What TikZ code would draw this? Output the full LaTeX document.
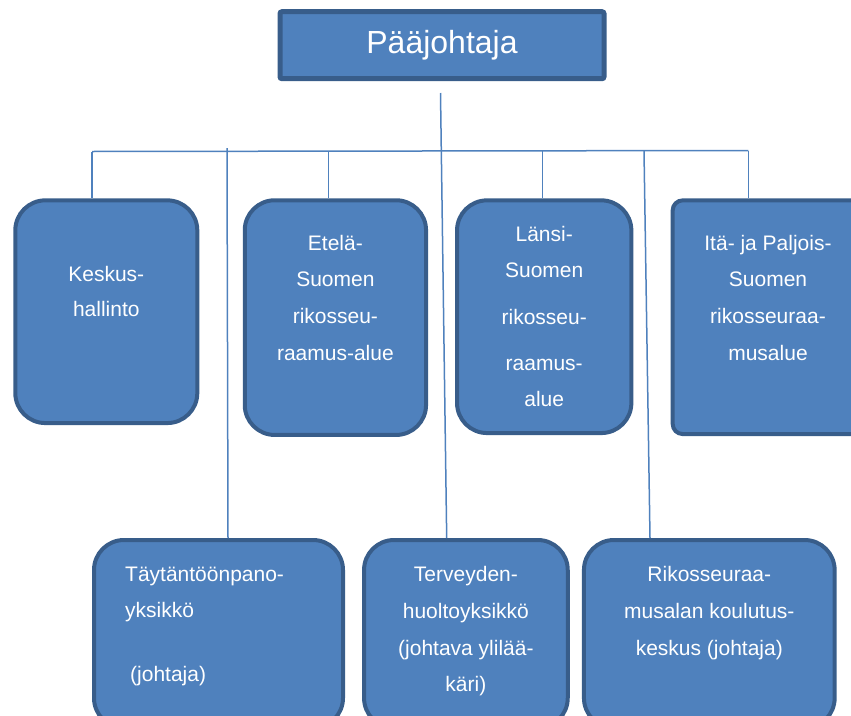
\documentclass[tikz,border=0pt]{standalone}
\usepackage{fontspec}
\setmainfont{Liberation Sans}
\usetikzlibrary{positioning}
\definecolor{boxfill}{RGB}{79,129,189}
\definecolor{boxline}{RGB}{56,93,138}
\definecolor{wireblue}{RGB}{79,129,189}

\begin{document}
\begin{tikzpicture}[x=1pt, y=-1pt,
  orgbox/.style={draw=boxline, fill=boxfill, line width=4pt, rounded corners=30pt},
  orgtext/.style={text=white, inner sep=0pt, align=center, font=\fontsize{21}{36.7}\selectfont},
  wire/.style={draw=wireblue, line width=1.5pt}]
  \clip (0,0) rectangle (851,715);
  % johto
  \node[orgbox, rounded corners=2pt, line width=5pt, minimum width=324pt, minimum height=67pt,
        text=white, font=\fontsize{32}{38}\selectfont] (paa) at (442,45.2) {Pääjohtaja};
  % alueet
  \node[orgbox, minimum width=182pt, minimum height=222.7pt] (keskus) at (106.3,311.7) {};
  \node[orgbox, minimum width=181.3pt, minimum height=234.7pt] (etela) at (335.4,317.6) {};
  \node[orgbox, minimum width=174.3pt, minimum height=232.7pt] (lansi) at (544.2,316.7) {};
  \node[orgbox, rounded corners=10pt, minimum width=190.6pt, minimum height=233.7pt] (ita) at (768,317.2) {};
  % yksiköt
  \node[orgbox, minimum width=249pt, minimum height=188pt] (taytanto) at (218.5,634) {};
  \node[orgbox, minimum width=203.7pt, minimum height=188pt] (terveys) at (465.9,634) {};
  \node[orgbox, minimum width=250.7pt, minimum height=188pt] (koulutus) at (709.3,634) {};

  \node[orgtext, below=68.1pt of keskus.north] (keskusT) {Keskus-\\[-1.7pt]hallinto};
  \node[orgtext, below=36.4pt of etela.north] (etelaT) {Etelä-\\Suomen\\rikosseu-\\raamus-alue};
  \node[orgtext, below=28.1pt of lansi.north] (lansiT) {Länsi-\\[-0.7pt]Suomen\\[9.6pt]rikosseu-\\[10pt]raamus-\\[-0.7pt]alue};
  \node[orgtext, below=36.4pt of ita.north] (itaT) {Itä- ja Paljois-\\Suomen\\rikosseuraa-\\musalue};
  \node[orgtext, align=left, below right=28.4pt and 33pt of taytanto.north west] (taytantoT)
    {Täytäntöönpano-\\yksikkö\\[26.7pt]\hspace*{5pt}(johtaja)};
  \node[orgtext, below=28.4pt of terveys.north] (terveysT) {Terveyden-\\huoltoyksikkö\\(johtava ylilää-\\käri)};
  \node[orgtext, below=28.4pt of koulutus.north] (koulutusT) {Rikosseuraa-\\musalan koulutus-\\keskus (johtaja)};

  % linjat
  \coordinate (trunk) at (440.5,93);
  \coordinate (busL) at (92,151.5);
  \coordinate (busR) at (748.3,150.5);
  \coordinate (tapE) at (328.5,151.3);
  \coordinate (tapL) at (542.3,151);
  \coordinate (tapT) at (227,148);
  \coordinate (tapR) at (644,151);
  \draw[wire] (busL) -- (busR);
  \draw[wire] (trunk) -- ([xshift=-19.2pt]terveys.north);
  \draw[wire] (busL) -- (keskus.north -| busL);
  \draw[wire] (tapE) -- (etela.north -| tapE);
  \draw[wire] (tapL) -- (lansi.north -| tapL);
  \draw[wire] (busR) -- (ita.north -| busR);
  \draw[wire] (tapT) -- ([xshift=9.5pt]taytanto.north);
  \draw[wire] (tapR) -- ([xshift=-59.3pt]koulutus.north);
\end{tikzpicture}
\end{document}
